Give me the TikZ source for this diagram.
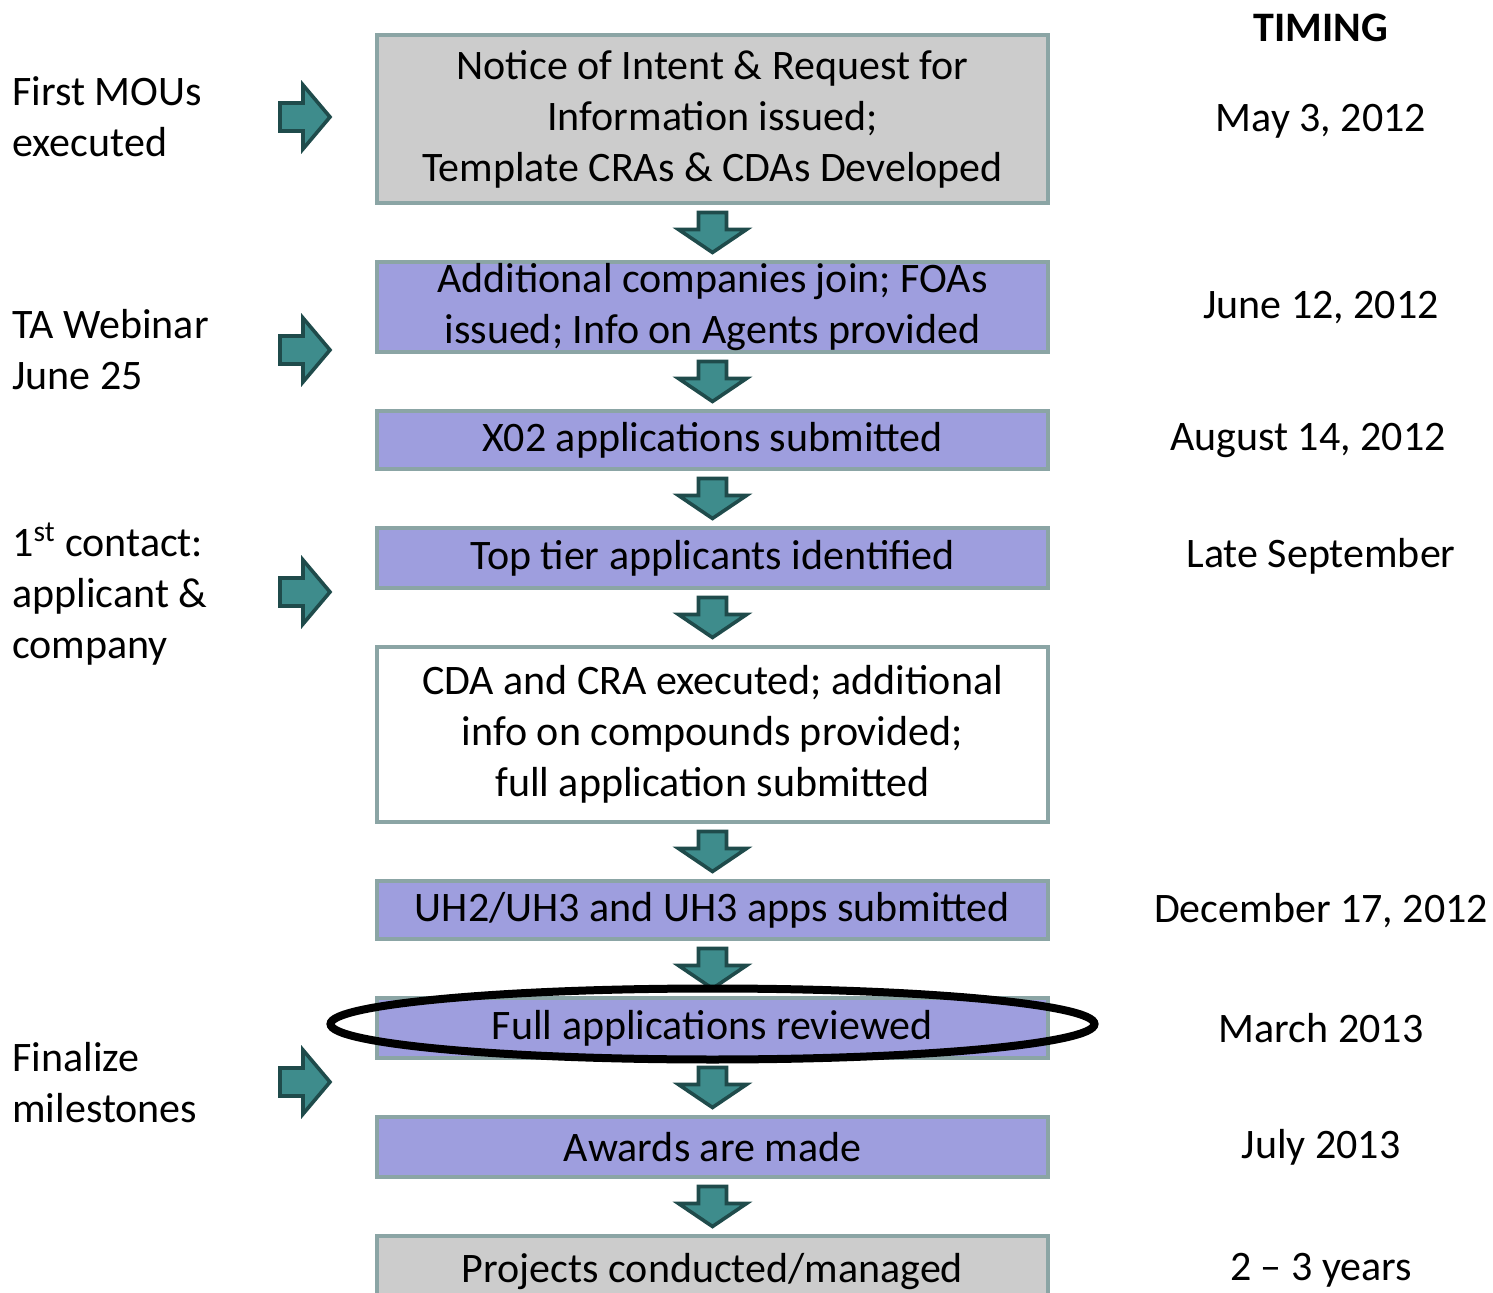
\documentclass[tikz,border=0pt]{standalone}
\usepackage{fontspec}
\setmainfont{Carlito}
\usetikzlibrary{positioning,shapes.geometric,calc}
\definecolor{boxgray}{RGB}{204,204,204}
\definecolor{boxblue}{RGB}{158,158,222}
\definecolor{boxedge}{RGB}{139,165,165}
\definecolor{arrfill}{RGB}{62,140,140}
\definecolor{arredge}{RGB}{31,75,75}

\begin{document}
\begin{tikzpicture}[x=0.5pt,y=-0.5pt,node distance=27.5pt,
    every node/.style={font=\fontsize{21}{25.5}\selectfont},
    stage/.style={draw=boxedge,line width=2pt,rectangle,minimum width=335.5pt,minimum height=29pt,inner sep=0pt,align=center},
    graystage/.style={stage,fill=boxgray},
    bluestage/.style={stage,fill=boxblue},
    whitestage/.style={stage,fill=white},
    note/.style={anchor=west,inner sep=0pt,align=left},
    when/.style={inner sep=0pt,yshift=-1.5pt},
    blockarr/.style={draw=arredge,fill=arrfill,line width=1.8pt,line join=miter},
    downarr/.pic={\path[blockarr] (-14,-20) -- (14,-20) -- (14,-3) -- (34,-3) -- (0,20) -- (-34,-3) -- (-14,-3) -- cycle;},
    rightarr/.pic={\path[blockarr] (-25,-14) -- (-2,-14) -- (-2,-32) -- (25,0) -- (-2,32) -- (-2,14) -- (-25,14) -- cycle;}]
    \useasboundingbox (0,0) rectangle (1493,1293);

    \node[graystage,minimum height=84pt] (notice) at (712.5,119) {Notice of Intent \& Request for\\Information issued;\\Template CRAs \& CDAs Developed};
    \node[bluestage,minimum height=45pt,below=of notice] (join) {Additional companies join; FOAs\\issued; Info on Agents provided};
    \node[bluestage,below=of join] (xo2) {X02 applications submitted};
    \node[bluestage,minimum height=30pt,below=of xo2] (toptier) {Top tier applicants identified};
    \node[whitestage,minimum height=87.5pt,below=of toptier] (cda) {CDA and CRA executed; additional\\info on compounds provided;\\full application submitted};
    \node[bluestage,below=of cda] (uh) {UH2/UH3 and UH3 apps submitted};
    \node[bluestage,minimum height=30pt,below=of uh] (review) {Full applications reviewed};
    \node[bluestage,minimum height=30pt,below=of review] (awards) {Awards are made};
    \node[graystage,minimum height=36pt,below=of awards] (projects) {Projects conducted/managed};

    \node[note] (firstmou) at (12,117) {First MOUs\\executed};
    \node[note] (webinar) at (12,350) {TA Webinar\\June 25};
    \node[note] (contact) at (12,594) {1\textsuperscript{st} contact:\\applicant \&\\company};
    \node[note] (finalize) at (12,1083) {Finalize\\milestones};

    \node[when,font=\fontsize{21}{25.5}\selectfont\bfseries] (timing) at (1321,25) {TIMING};
    \node[when] (t1) at (1321,118) {May 3, 2012};
    \node[when] (t2) at (1321,305) {June 12, 2012};
    \node[when] (t3) at (1308,437) {August 14, 2012};
    \node[when] (t4) at (1321,553) {Late September};
    \node[when] (t6) at (1321,908) {December 17, 2012};
    \node[when] (t7) at (1321,1025) {March 2013};
    \node[when] (t8) at (1321,1144) {July 2013};
    \node[when] (t9) at (1321,1267) {2 – 3 years};

    \foreach \a/\b in {notice/join,join/xo2,xo2/toptier,toptier/cda,cda/uh,uh/review,review/awards,awards/projects}
        \pic at ($(\a.south)!0.5!(\b.north)$) {downarr};
    \foreach \y in {117,350,592,1082}
        \pic at (305,\y) {rightarr};

    \node[draw,ellipse,line width=4pt,minimum width=382pt,minimum height=35.5pt,inner sep=0pt] (highlight) at ($(review.center)+(0,-4)$) {};
\end{tikzpicture}
\end{document}
